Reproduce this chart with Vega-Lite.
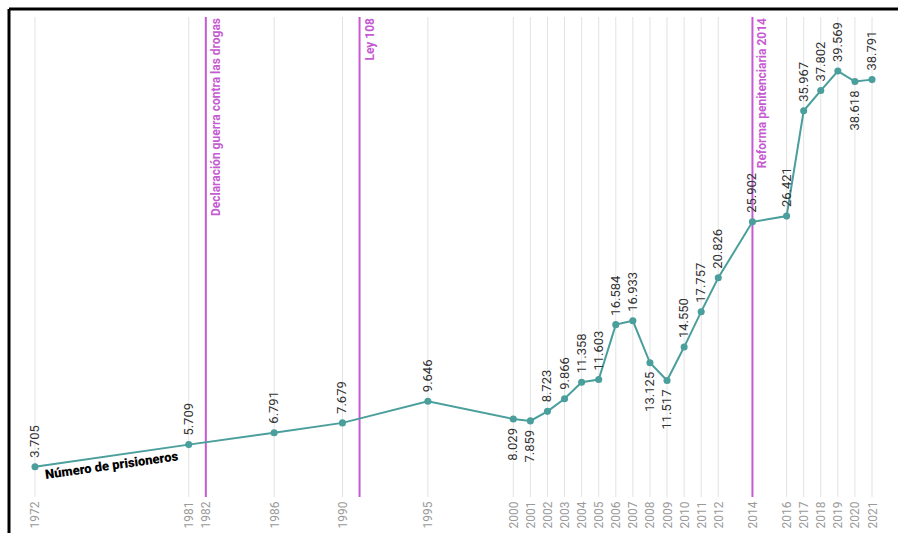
{
  "$schema": "https://vega.github.io/schema/vega-lite/v6.json",
  "width": 889,
  "height": 524,
  "autosize": {"type": "none"},
  "padding": {"left": 9, "top": 9, "right": 0, "bottom": 0},
  "background": "white",
  "config": {
    "view": {"stroke": null},
    "font": "Roboto",
    "axisX": {"labelOverlap": false, "labelBound": false, "labelFlush": false},
    "locale": {"number": {"decimal": ",", "thousands": ".", "grouping": [3], "currency": ["", " €"]}}
  },
  "datasets": {
    "presos": [
      {"year": 1972, "presos": 3705},
      {"year": 1981, "presos": 5709},
      {"year": 1986, "presos": 6791},
      {"year": 1990, "presos": 7679},
      {"year": 1995, "presos": 9646},
      {"year": 2000, "presos": 8029},
      {"year": 2001, "presos": 7859},
      {"year": 2002, "presos": 8723},
      {"year": 2003, "presos": 9866},
      {"year": 2004, "presos": 11358},
      {"year": 2005, "presos": 11603},
      {"year": 2006, "presos": 16584},
      {"year": 2007, "presos": 16933},
      {"year": 2008, "presos": 13125},
      {"year": 2009, "presos": 11517},
      {"year": 2010, "presos": 14550},
      {"year": 2011, "presos": 17757},
      {"year": 2012, "presos": 20826},
      {"year": 2014, "presos": 25902},
      {"year": 2016, "presos": 26421},
      {"year": 2017, "presos": 35967},
      {"year": 2018, "presos": 37802},
      {"year": 2019, "presos": 39569},
      {"year": 2020, "presos": 38618},
      {"year": 2021, "presos": 38791}
    ],
    "eventos": [
      {"year": 1982, "evento": "Declaración guerra contra las drogas"},
      {"year": 1991, "evento": "Ley 108"},
      {"year": 2014, "evento": "Reforma penitenciaria 2014"}
    ]
  },
  "encoding": {
    "x": {
      "field": "year", "type": "quantitative",
      "scale": {"domain": [1970.478, 2022.521], "nice": false, "zero": false},
      "axis": {
        "values": [1972, 1981, 1982, 1986, 1990, 1995, 2000, 2001, 2002, 2003, 2004, 2005, 2006, 2007, 2008, 2009, 2010, 2011, 2012, 2014, 2016, 2017, 2018, 2019, 2020, 2021],
        "format": "d", "labelAngle": -90, "labelAlign": "right", "labelBaseline": "middle", "grid": false, "domain": false, "ticks": false, "tickSize": 0,
        "labelColor": "#9a9a9a", "labelFontSize": 12, "labelFont": "Roboto", "labelPadding": 1,
        "labelOverlap": false, "labelBound": false, "labelFlush": false, "offset": -33, "title": null
      }
    }
  },
  "layer": [
    {
      "data": {"name": "presos"},
      "mark": {"type": "rule", "color": "#e2e2e2", "strokeWidth": 1},
      "encoding": {
        "y": {"datum": 961, "type": "quantitative", "scale": {"domain": [-2302, 45192], "nice": false, "zero": false}, "axis": null},
        "y2": {"datum": 44466}
      }
    },
    {
      "data": {"name": "eventos"},
      "mark": {"type": "rule", "color": "#c55ad2", "strokeWidth": 2},
      "encoding": {
        "y": {"datum": 961, "type": "quantitative"},
        "y2": {"datum": 44466}
      }
    },
    {
      "data": {"name": "eventos"},
      "mark": {"type": "text", "angle": -90, "align": "right", "baseline": "middle", "dx": -1, "dy": 10, "fontSize": 12, "fontWeight": "bold", "color": "#c55ad2"},
      "encoding": {
        "y": {"datum": 44466, "type": "quantitative"},
        "text": {"field": "evento"}
      }
    },
    {
      "data": {"name": "presos"},
      "mark": {"type": "line", "color": "#4a9f9c", "strokeWidth": 2, "point": {"filled": true, "size": 50, "color": "#4a9f9c"}},
      "encoding": {
        "y": {"field": "presos", "type": "quantitative"}
      }
    },
    {
      "data": {"name": "presos"},
      "transform": [{"filter": {"not": {"field": "year", "oneOf": [2000, 2001, 2008, 2009, 2020]}}}],
      "mark": {"type": "text", "angle": -90, "align": "left", "baseline": "middle", "dx": 9, "fontSize": 13, "color": "#333333"},
      "encoding": {
        "y": {"field": "presos", "type": "quantitative"},
        "text": {"field": "presos", "type": "quantitative", "format": ",d"}
      }
    },
    {
      "data": {"name": "presos"},
      "transform": [{"filter": {"field": "year", "oneOf": [2000, 2001, 2008, 2009, 2020]}}],
      "mark": {"type": "text", "angle": -90, "align": "right", "baseline": "middle", "dx": -9, "fontSize": 13, "color": "#333333"},
      "encoding": {
        "y": {"field": "presos", "type": "quantitative"},
        "text": {"field": "presos", "type": "quantitative", "format": ",d"}
      }
    },
    {
      "data": {"values": [{"year": 1972.6, "y": 2950, "t": "Número de prisioneros"}]},
      "mark": {"type": "text", "angle": -8, "align": "left", "baseline": "middle", "fontSize": 13, "fontWeight": 900, "color": "#000000"},
      "encoding": {
        "y": {"field": "y", "type": "quantitative"},
        "text": {"field": "t"}
      }
    },
    {
      "data": {"values": [{"year": 1970.478}]},
      "mark": {"type": "rule", "color": "#000000", "strokeWidth": 3},
      "encoding": {
        "y": {"datum": -2302, "type": "quantitative"},
        "y2": {"datum": 45192}
      }
    },
    {
      "data": {"values": [{"year": 1970.478}, {"year": 2022.521}]},
      "mark": {"type": "line", "color": "#000000", "strokeWidth": 3},
      "encoding": {
        "y": {"datum": 45192, "type": "quantitative"}
      }
    }
  ]
}
